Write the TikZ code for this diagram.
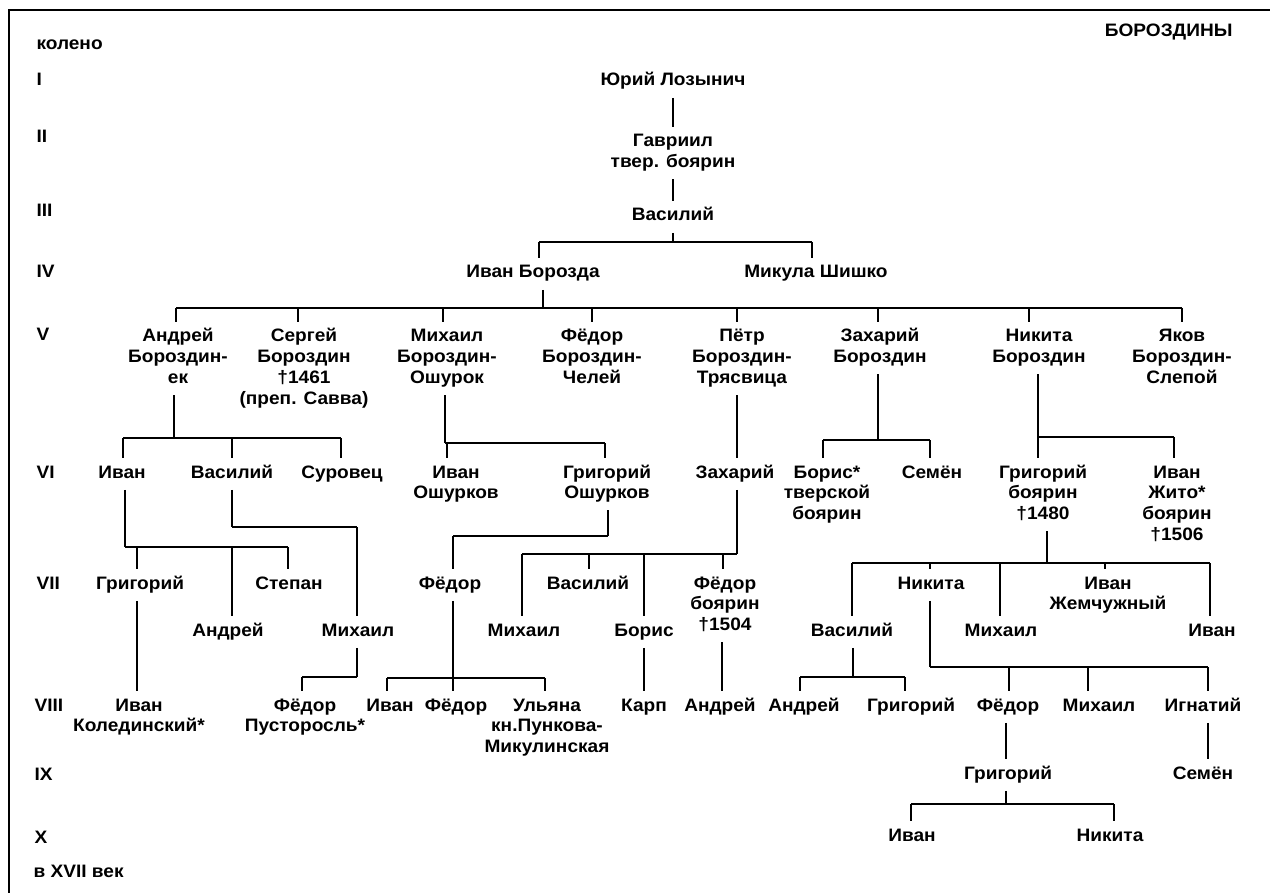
\documentclass[tikz,border=0pt]{standalone}
\usepackage{fontspec}
\setmainfont{Liberation Sans}[FakeStretch=1.06]
\usetikzlibrary{calc}
\newcommand\stk[1]{\begin{tabular}[t]{@{}c@{}}#1\end{tabular}}
\newcommand\vup[3]{\draw ($(#1.center|-#2)+(#3,0)$) -- ($(#1.north)+(#3,0)$);}
\newcommand\vdn[3]{\draw ($(#1.south)+(#3,0)$) -- ($(#1.center|-#2)+(#3,0)$);}
\newcommand\hlink[5]{\draw ($(#1.center|-#5)+(#2,0)$) -- ($(#3.center|-#5)+(#4,0)$);}
\newcommand\vstr[4]{\draw ($(#1.south)+(#2,0)$) -- ($(#3.north)+(#4,0)$);}
\begin{document}
\begin{tikzpicture}[x=1pt,y=-1pt,line width=1.1pt,
  pn/.style={font=\fontsize{18}{20.7}\selectfont\bfseries, inner xsep=1pt, inner ysep=5pt, anchor=base},
  lbl/.style={font=\fontsize{18}{20.7}\selectfont\bfseries, inner sep=0pt, anchor=base west},
  frame/.style={line width=1.6pt}]
\useasboundingbox (0,0) rectangle (1270,893);
% frame
\coordinate (fTL) at (9,10);
\coordinate (fTR) at (1270,10);
\coordinate (fBL) at (9,893);
\draw[frame] (fTR) -- (fTL) -- (fBL);
% title and generation labels
\node[font=\fontsize{18}{20.7}\selectfont\bfseries, inner sep=0pt, anchor=base east] (title) at (1233,37) {БОРОЗДИНЫ};
\node[lbl] (k0) at (36,50) {колено};
\node[lbl] (kI) at (36,86) {I};
\node[lbl] (kII) at (36,143) {II};
\node[lbl] (kIII) at (36,217) {III};
\node[lbl] (kIV) at (36,278) {IV};
\node[lbl] (kV) at (36,341) {V};
\node[lbl] (kVI) at (36,478) {VI};
\node[lbl] (kVII) at (36,589) {VII};
\node[lbl] (kVIII) at (34,711) {VIII};
\node[lbl] (kIX) at (34,780) {IX};
\node[lbl] (kX) at (34,843) {X};
\node[lbl] (kXVII) at (33,877) {в XVII век};
% generations I-IV
\node[pn] (n1) at (673,86) {\stk{Юрий Лозынич}};
\node[pn] (n2) at (673,147) {\stk{Гавриил\\твер. боярин}};
\node[pn] (n3) at (673,221) {\stk{Василий}};
\node[pn] (n4a) at (533,278) {\stk{Иван Борозда}};
\node[pn] (n4b) at (816,278) {\stk{Микула Шишко}};
% V
\node[pn] (v1) at (178,342) {\stk{Андрей\\Бороздин-\\ек}};
\node[pn] (v2) at (304,342) {\stk{Сергей\\Бороздин\\†1461\\(преп. Савва)}};
\node[pn] (v3) at (447,342) {\stk{Михаил\\Бороздин-\\Ошурок}};
\node[pn] (v4) at (592,342) {\stk{Фёдор\\Бороздин-\\Челей}};
\node[pn] (v5) at (742,342) {\stk{Пётр\\Бороздин-\\Трясвица}};
\node[pn] (v6) at (880,342) {\stk{Захарий\\Бороздин}};
\node[pn] (v7) at (1039,342) {\stk{Никита\\Бороздин}};
\node[pn] (v8) at (1182,342) {\stk{Яков\\Бороздин-\\Слепой}};
% VI
\node[pn] (a) at (122,478) {\stk{Иван}};
\node[pn] (b) at (232,478) {\stk{Василий}};
\node[pn] (c) at (342,478) {\stk{Суровец}};
\node[pn] (d) at (456,478) {\stk{Иван\\Ошурков}};
\node[pn] (e) at (607,478) {\stk{Григорий\\Ошурков}};
\node[pn] (f) at (735,478) {\stk{Захарий}};
\node[pn] (g) at (827,478) {\stk{Борис*\\тверской\\боярин}};
\node[pn] (h) at (932,478) {\stk{Семён}};
\node[pn] (i) at (1043,478) {\stk{Григорий\\боярин\\†1480}};
\node[pn] (j) at (1177,478) {\stk{Иван\\Жито*\\боярин\\†1506}};
% VII
\node[pn] (g7) at (140,589) {\stk{Григорий}};
\node[pn] (stp) at (289,589) {\stk{Степан}};
\node[pn] (fed7) at (450,589) {\stk{Фёдор}};
\node[pn] (vz) at (588,589) {\stk{Василий}};
\node[pn] (fb) at (725,589) {\stk{Фёдор\\боярин\\†1504}};
\node[pn] (nk7) at (931,589) {\stk{Никита}};
\node[pn] (ij) at (1108,589) {\stk{Иван\\Жемчужный}};
% VII (lower row)
\node[pn] (and7) at (228,636) {\stk{Андрей}};
\node[pn] (mih7) at (358,636) {\stk{Михаил}};
\node[pn] (mz) at (524,636) {\stk{Михаил}};
\node[pn] (bor) at (644,636) {\stk{Борис}};
\node[pn] (vg) at (852,636) {\stk{Василий}};
\node[pn] (mg) at (1001,636) {\stk{Михаил}};
\node[pn] (ivan7) at (1212,636) {\stk{Иван}};
% VIII
\node[pn] (ik) at (139,711) {\stk{Иван\\Колединский*}};
\node[pn] (fp) at (305,711) {\stk{Фёдор\\Пусторосль*}};
\node[pn] (iv8) at (390,711) {\stk{Иван}};
\node[pn] (fd8) at (456,711) {\stk{Фёдор}};
\node[pn] (ul) at (547,711) {\stk{Ульяна\\кн.Пункова-\\Микулинская}};
\node[pn] (karp) at (644,711) {\stk{Карп}};
\node[pn] (an8) at (720,711) {\stk{Андрей}};
\node[pn] (an8b) at (804,711) {\stk{Андрей}};
\node[pn] (gr8) at (911,711) {\stk{Григорий}};
\node[pn] (f8) at (1008,711) {\stk{Фёдор}};
\node[pn] (m8) at (1099,711) {\stk{Михаил}};
\node[pn] (ig) at (1203,711) {\stk{Игнатий}};
% IX
\node[pn] (gr9) at (1008,779) {\stk{Григорий}};
\node[pn] (sem9) at (1203,779) {\stk{Семён}};
% X
\node[pn] (iv10) at (912,841) {\stk{Иван}};
\node[pn] (nk10) at (1110,841) {\stk{Никита}};
% bracket levels
\coordinate (bIV) at (0,242);
\coordinate (bV) at (0,308);
\coordinate (bVIa) at (0,438);
\coordinate (bVIb) at (0,443);
\coordinate (bVIc) at (0,440);
\coordinate (bVId) at (0,437);
\coordinate (bA) at (0,547);
\coordinate (bB) at (0,527);
\coordinate (bE) at (0,536);
\coordinate (bF) at (0,554);
\coordinate (bI) at (0,563);
\coordinate (bM) at (0,677);
\coordinate (bFd) at (0,678);
\coordinate (bV7) at (0,677);
\coordinate (bN) at (0,667);
\coordinate (bG) at (0,804);
% connectors
\vstr{n1}{0}{n2}{0}
\vstr{n2}{0}{n3}{0}
\vdn{n3}{bIV}{0} \hlink{n4a}{6}{n4b}{-4}{bIV} \vup{n4a}{bIV}{6} \vup{n4b}{bIV}{-4}
\vdn{n4a}{bV}{10} \hlink{v1}{-2}{v8}{0}{bV}
\vup{v1}{bV}{-2} \vup{v2}{bV}{-6} \vup{v3}{bV}{-4} \vup{v4}{bV}{0}
\vup{v5}{bV}{-5} \vup{v6}{bV}{-2} \vup{v7}{bV}{-10} \vup{v8}{bV}{0}
\vdn{v1}{bVIa}{-4} \hlink{a}{1}{c}{-1}{bVIa} \vup{a}{bVIa}{1} \vup{b}{bVIa}{0} \vup{c}{bVIa}{-1}
\vdn{v3}{bVIb}{-2} \hlink{v3}{-2}{e}{-2}{bVIb} \vup{d}{bVIb}{-9} \vup{e}{bVIb}{-2}
\vstr{v5}{-5}{f}{2}
\vdn{v6}{bVIc}{-2} \hlink{g}{-4}{h}{-2}{bVIc} \vup{g}{bVIc}{-4} \vup{h}{bVIc}{-2}
\vstr{v7}{-1}{i}{-5} \hlink{v7}{-1}{j}{-3}{bVId} \vup{j}{bVId}{-3}
\vdn{a}{bA}{3} \hlink{a}{3}{stp}{-1}{bA} \vup{g7}{bA}{-3} \vup{and7}{bA}{4} \vup{stp}{bA}{-1}
\vdn{b}{bB}{0} \hlink{b}{0}{mih7}{-1}{bB} \vup{mih7}{bB}{-1}
\vdn{e}{bE}{1} \hlink{e}{1}{fed7}{3}{bE} \vup{fed7}{bE}{3}
\vdn{f}{bF}{2} \hlink{mz}{-2}{f}{2}{bF} \vup{mz}{bF}{-2} \vup{vz}{bF}{1} \vup{bor}{bF}{0} \vup{fb}{bF}{-2}
\vdn{i}{bI}{4} \hlink{vg}{0}{ivan7}{-2}{bI} \vup{vg}{bI}{0} \vup{nk7}{bI}{-1} \vup{mg}{bI}{-1} \vup{ij}{bI}{-3} \vup{ivan7}{bI}{-2}
\vstr{g7}{-3}{ik}{-2}
\vdn{mih7}{bM}{-1} \hlink{mih7}{-1}{fp}{-3}{bM} \vup{fp}{bM}{-3}
\vdn{fed7}{bFd}{3} \hlink{iv8}{-3}{ul}{-2}{bFd} \vup{iv8}{bFd}{-3} \vup{fd8}{bFd}{-3} \vup{ul}{bFd}{-2}
\vstr{bor}{0}{karp}{0}
\vstr{fb}{-3}{an8}{2}
\vdn{vg}{bV7}{1} \hlink{an8b}{-4}{gr8}{-6}{bV7} \vup{an8b}{bV7}{-4} \vup{gr8}{bV7}{-6}
\vdn{nk7}{bN}{-1} \hlink{nk7}{-1}{ig}{5}{bN} \vup{f8}{bN}{1} \vup{m8}{bN}{-11} \vup{ig}{bN}{5}
\vstr{f8}{-2}{gr9}{-2}
\vstr{ig}{5}{sem9}{5}
\vdn{gr9}{bG}{-2} \hlink{iv10}{-1}{nk10}{4}{bG} \vup{iv10}{bG}{-1} \vup{nk10}{bG}{4}
\end{tikzpicture}
\end{document}
